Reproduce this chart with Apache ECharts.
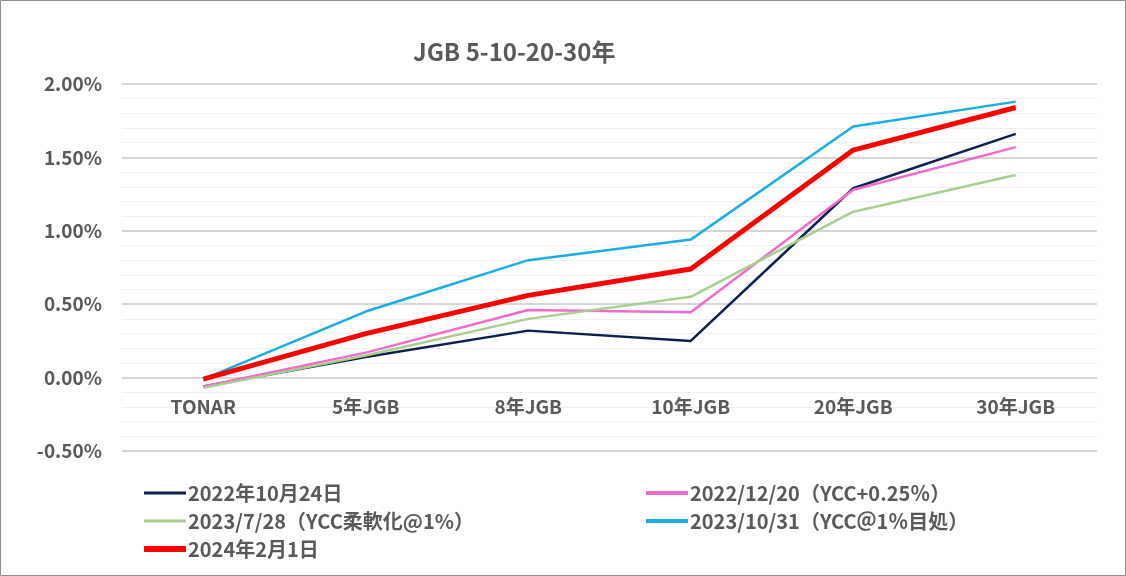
<!DOCTYPE html>
<html><head><meta charset="utf-8">
<script src="https://cdn.jsdelivr.net/npm/echarts@6/dist/echarts.min.js"></script>
<style>html,body{margin:0;padding:0;background:#fff}#c{width:1126px;height:576px}</style>
</head><body><div id="c"></div>
<script>
const categories = ['TONAR', '5年JGB', '8年JGB', '10年JGB', '20年JGB', '30年JGB'];
const seriesNames = ['2022年10月24日', '2022/12/20（YCC+0.25％）', '2023/7/28（YCC柔軟化@1%）', '2023/10/31（YCC＠1％目処）', '2024年2月1日'];
const s2022_10_24 = [-0.06, 0.14, 0.32, 0.25, 1.29, 1.66];
const s2022_12_20 = [-0.06, 0.17, 0.46, 0.445, 1.28, 1.57];
const s2023_07_28 = [-0.07, 0.15, 0.40, 0.55, 1.13, 1.38];
const s2023_10_31 = [-0.01, 0.45, 0.80, 0.94, 1.71, 1.88];
const s2024_02_01 = [-0.01, 0.30, 0.56, 0.74, 1.55, 1.84];
const yTicks = { min: -0.5, max: 2.0, interval: 0.5 };

const colors = ['#0B1F50', '#F06BCB', '#A8D08D', '#19AEE3', '#FF0000'];
const widths = [2.5, 2.5, 2.5, 2.5, 5];
const dataSets = [s2022_10_24, s2022_12_20, s2023_07_28, s2023_10_31, s2024_02_01];
const font = '"Noto Sans CJK JP", "Noto Sans", sans-serif';
const txt = '#595959';

const gridTop = 84, gridBottom = 125, H = 576;
const plotH = H - gridTop - gridBottom;
const zeroOffset = -plotH * (0 - yTicks.min) / (yTicks.max - yTicks.min);

const chart = echarts.init(document.getElementById('c'));
const legendText = { color: txt, fontSize: 20, fontWeight: 'bold', fontFamily: font, padding: [0, 0, 0, -3] };
const legBase = { orient: 'vertical', icon: 'rect', itemWidth: 42, itemGap: 8, textStyle: legendText };
chart.setOption({
  animation: false,
  title: {
    text: 'JGB 5-10-20-30年', left: 408, top: 35,
    textStyle: { color: txt, fontSize: 24, fontWeight: 'bold', fontFamily: font }
  },
  graphic: [{ type: 'rect', shape: { x: 0.5, y: 0.5, width: 1125, height: 575 }, style: { fill: 'none', stroke: '#8c8c8c', lineWidth: 1 }, silent: true }],
  grid: { left: 122, right: 29, top: gridTop, bottom: gridBottom },
  legend: [
    Object.assign({}, legBase, { left: 139, top: 478, itemHeight: 3, data: [seriesNames[0], seriesNames[2]] }),
    Object.assign({}, legBase, { left: 139, top: 534, itemHeight: 6, data: [seriesNames[4]] }),
    Object.assign({}, legBase, { left: 641, top: 478, itemHeight: 4, data: [seriesNames[1], seriesNames[3]] })
  ],
  xAxis: {
    type: 'category', data: categories, boundaryGap: true, position: 'bottom', offset: zeroOffset,
    axisLine: { show: false, onZero: false }, axisTick: { show: false },
    axisLabel: { color: txt, fontSize: 19, fontWeight: 'bold', fontFamily: font, margin: 20 }
  },
  yAxis: {
    type: 'value', min: yTicks.min, max: yTicks.max, interval: yTicks.interval,
    axisLine: { show: false }, axisTick: { show: false },
    axisLabel: { color: txt, fontSize: 19, fontWeight: 'bold', fontFamily: font, margin: 20,
      formatter: v => v.toFixed(2) + '%' },
    splitLine: { lineStyle: { color: '#D6D6D6', width: 2 } },
    minorTick: { show: false, splitNumber: 5 },
    minorSplitLine: { show: true, lineStyle: { color: '#EFEFEF', width: 1 } }
  },
  series: dataSets.map((d, i) => ({
    name: seriesNames[i], type: 'line', data: d, symbol: 'none',
    lineStyle: { color: colors[i], width: widths[i] }, itemStyle: { color: colors[i] },
    z: i === 4 ? 5 : 2
  }))
});
</script></body></html>
